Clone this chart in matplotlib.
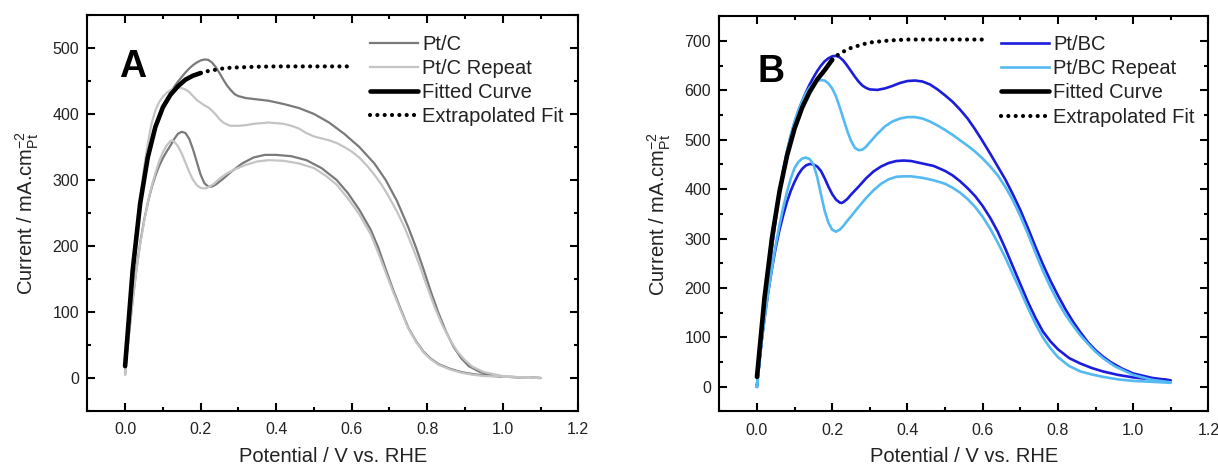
import matplotlib
matplotlib.use("Agg")
import matplotlib.pyplot as plt
import numpy as np

plt.rcParams['font.family'] = ['Liberation Sans', 'DejaVu Sans']
plt.rcParams['mathtext.fontset'] = 'custom'
plt.rcParams['mathtext.rm'] = 'Liberation Sans'
plt.rcParams['mathtext.it'] = 'Liberation Sans'

# ---------------- Panel A data ----------------
ptc_fwd_x = [0.0, 0.01, 0.02, 0.03, 0.04, 0.05, 0.06, 0.07, 0.08, 0.09, 0.10, 0.11, 0.12, 0.13, 0.14, 0.15,
             0.16, 0.17, 0.18, 0.19, 0.20, 0.21, 0.22, 0.23, 0.24, 0.25, 0.26, 0.27, 0.28, 0.29, 0.30, 0.32,
             0.35, 0.38, 0.42, 0.46, 0.50, 0.54, 0.58, 0.62, 0.66, 0.69, 0.72, 0.75, 0.77, 0.79, 0.81, 0.83,
             0.85, 0.87, 0.89, 0.91, 0.94, 0.97, 1.00, 1.05, 1.10]
ptc_fwd_y = [6, 80, 150, 210, 258, 298, 330, 357, 378, 396, 410, 422, 432, 441, 449, 456,
             463, 469, 474, 478, 481, 482.5, 482, 478, 471, 462, 452, 443, 436, 430, 427, 424,
             422, 420, 415, 409, 400, 387, 370, 350, 325, 300, 268, 228, 198, 165, 130, 98,
             70, 47, 30, 18, 9, 4, 2, 1, 0]
ptc_rev_x = [1.10, 1.05, 1.00, 0.95, 0.92, 0.89, 0.86, 0.83, 0.81, 0.79, 0.77, 0.75, 0.73, 0.71, 0.69, 0.67,
             0.65, 0.62, 0.59, 0.56, 0.52, 0.48, 0.44, 0.40, 0.37, 0.34, 0.31, 0.28, 0.26, 0.24, 0.23, 0.22,
             0.21, 0.20, 0.19, 0.18, 0.17, 0.16, 0.15, 0.14, 0.13, 0.12, 0.11, 0.10, 0.09, 0.08, 0.07, 0.06,
             0.05, 0.04, 0.03, 0.02, 0.01, 0.0]
ptc_rev_y = [0, 1, 2, 4, 6, 9, 14, 21, 29, 40, 56, 76, 104, 133, 165, 198,
             225, 255, 280, 300, 318, 330, 336, 338, 338, 334, 325, 312, 302, 293, 290, 290,
             295, 308, 327, 346, 362, 371, 373, 370, 362, 352, 343, 333, 321, 306, 288, 265,
             238, 205, 165, 118, 65, 12]

ptcr_fwd_x = [0.0, 0.01, 0.02, 0.03, 0.04, 0.05, 0.06, 0.07, 0.08, 0.09, 0.10, 0.11, 0.12, 0.13, 0.14, 0.15,
              0.16, 0.17, 0.18, 0.19, 0.20, 0.21, 0.22, 0.23, 0.24, 0.25, 0.26, 0.27, 0.28, 0.30, 0.32, 0.34,
              0.36, 0.38, 0.40, 0.42, 0.44, 0.46, 0.48, 0.50, 0.52, 0.54, 0.56, 0.58, 0.60, 0.62, 0.64, 0.66,
              0.68, 0.70, 0.72, 0.74, 0.76, 0.78, 0.80, 0.82, 0.84, 0.86, 0.88, 0.90, 0.92, 0.95, 1.00, 1.05,
              1.10]
ptcr_fwd_y = [5, 85, 158, 220, 272, 318, 355, 385, 405, 418, 426, 432, 436, 438.5, 439.5, 439,
              437, 433, 427, 421, 417, 413, 410, 405, 399, 392, 387, 384, 382, 382, 383, 385,
              386, 387, 386, 385, 382, 378, 371, 366, 363, 360, 356, 350, 343, 334, 322, 308,
              292, 273, 252, 228, 200, 170, 138, 107, 80, 58, 40, 27, 17, 9, 3, 1,
              0]
ptcr_rev_x = [1.10, 1.00, 0.95, 0.92, 0.89, 0.86, 0.83, 0.81, 0.79, 0.77, 0.75, 0.73, 0.71, 0.69, 0.67, 0.65,
              0.62, 0.59, 0.56, 0.53, 0.50, 0.46, 0.42, 0.38, 0.35, 0.32, 0.29, 0.27, 0.25, 0.235, 0.22, 0.21,
              0.20, 0.19, 0.18, 0.17, 0.16, 0.15, 0.14, 0.13, 0.125, 0.12, 0.11, 0.10, 0.09, 0.08, 0.07, 0.06,
              0.05, 0.04, 0.03, 0.02, 0.01, 0.0]
ptcr_rev_y = [0, 2, 3, 5, 8, 13, 20, 28, 39, 55, 75, 102, 130, 160, 190, 218,
              248, 272, 293, 307, 318, 325, 329, 330, 328, 323, 316, 310, 302, 294, 289, 287,
              288, 292, 300, 312, 326, 340, 351, 358, 360, 359, 352, 342, 328, 310, 290, 265,
              236, 203, 163, 118, 65, 10]

fitA_x = [0.0, 0.02, 0.04, 0.06, 0.08, 0.10, 0.12, 0.14, 0.16, 0.18, 0.20]
fitA_y = [18, 163, 265, 334, 380, 410, 429, 442, 452, 458, 462]
extA_x = [0.20, 0.22, 0.24, 0.26, 0.28, 0.30, 0.35, 0.40, 0.45, 0.50, 0.55, 0.60]
extA_y = [462, 465, 467, 469, 470, 470.5, 471.5, 472, 472, 472, 472, 472]

# ---------------- Panel B data ----------------
pbc_fwd_x = [0.0, 0.01, 0.02, 0.03, 0.04, 0.05, 0.06, 0.07, 0.08, 0.09, 0.10, 0.11, 0.12, 0.13, 0.14, 0.15,
             0.16, 0.17, 0.18, 0.19, 0.20, 0.21, 0.22, 0.23, 0.24, 0.25, 0.26, 0.27, 0.28, 0.29, 0.30, 0.32,
             0.34, 0.36, 0.38, 0.40, 0.42, 0.44, 0.46, 0.48, 0.50, 0.52, 0.54, 0.56, 0.58, 0.60, 0.62, 0.64,
             0.66, 0.68, 0.70, 0.72, 0.74, 0.76, 0.78, 0.80, 0.82, 0.84, 0.86, 0.88, 0.90, 0.92, 0.94, 0.97,
             1.00, 1.05, 1.10]
pbc_fwd_y = [0, 75, 150, 220, 282, 340, 392, 438, 476, 508, 535, 558, 578, 596, 612, 626,
             639, 650, 659, 665, 669, 670, 667, 660, 650, 639, 628, 618, 610, 605, 602, 601,
             604, 609, 615, 619, 620, 618, 612, 602, 590, 577, 561, 543, 521, 497, 472, 446,
             420, 390, 358, 322, 284, 248, 215, 185, 157, 132, 110, 90, 74, 61, 50, 37,
             27, 18, 13]
pbc_rev_x = [1.10, 1.05, 1.00, 0.96, 0.92, 0.89, 0.86, 0.83, 0.80, 0.78, 0.76, 0.74, 0.72, 0.70, 0.68, 0.66,
             0.64, 0.62, 0.60, 0.58, 0.56, 0.54, 0.52, 0.50, 0.47, 0.44, 0.41, 0.39, 0.37, 0.35, 0.33, 0.31,
             0.29, 0.27, 0.25, 0.24, 0.23, 0.225, 0.22, 0.21, 0.20, 0.19, 0.18, 0.17, 0.16, 0.15, 0.14, 0.13,
             0.12, 0.11, 0.10, 0.09, 0.08, 0.07, 0.06, 0.05, 0.04, 0.03, 0.02, 0.01, 0.0]
pbc_rev_y = [13, 15, 19, 24, 31, 38, 47, 58, 76, 92, 112, 140, 172, 208, 244, 280,
             314, 342, 366, 386, 402, 416, 428, 437, 447, 452, 457, 458, 457, 453, 446, 436,
             422, 405, 389, 380, 374, 372, 373, 379, 390, 405, 422, 437, 446, 450, 451, 448,
             441, 430, 415, 397, 375, 348, 318, 282, 240, 192, 138, 78, 5]

pbcr_fwd_x = [0.0, 0.01, 0.02, 0.03, 0.04, 0.05, 0.06, 0.07, 0.08, 0.09, 0.10, 0.11, 0.12, 0.13, 0.14, 0.15,
              0.16, 0.17, 0.18, 0.19, 0.20, 0.21, 0.22, 0.23, 0.24, 0.25, 0.26, 0.27, 0.28, 0.29, 0.30, 0.32,
              0.34, 0.36, 0.38, 0.40, 0.42, 0.44, 0.46, 0.48, 0.50, 0.52, 0.54, 0.56, 0.58, 0.60, 0.62, 0.64,
              0.66, 0.68, 0.70, 0.72, 0.74, 0.76, 0.78, 0.80, 0.82, 0.84, 0.86, 0.88, 0.90, 0.92, 0.95, 1.00,
              1.05, 1.10]
pbcr_fwd_y = [0, 78, 155, 225, 288, 345, 396, 440, 478, 510, 537, 560, 578, 594, 606, 614,
              619, 621, 620, 614, 604, 588, 566, 542, 518, 498, 484, 479, 480, 486, 495, 512,
              527, 537, 543, 546, 546, 543, 537, 529, 520, 510, 499, 488, 476, 462, 446, 428,
              405, 378, 346, 310, 272, 235, 202, 172, 146, 124, 104, 87, 71, 58, 42, 24,
              14, 9]
pbcr_rev_x = [1.10, 1.05, 1.00, 0.96, 0.92, 0.89, 0.86, 0.83, 0.80, 0.78, 0.76, 0.74, 0.72, 0.70, 0.68, 0.66,
              0.64, 0.62, 0.60, 0.58, 0.56, 0.54, 0.52, 0.50, 0.47, 0.44, 0.41, 0.39, 0.37, 0.35, 0.33, 0.31,
              0.29, 0.27, 0.25, 0.24, 0.23, 0.22, 0.21, 0.20, 0.19, 0.18, 0.17, 0.16, 0.15, 0.14, 0.13, 0.12,
              0.11, 0.10, 0.09, 0.08, 0.07, 0.06, 0.05, 0.04, 0.03, 0.02, 0.01, 0.0]
pbcr_rev_y = [8, 10, 12, 15, 20, 25, 31, 42, 60, 78, 100, 128, 160, 195, 228, 262,
              292, 320, 344, 364, 380, 393, 403, 411, 418, 423, 426, 426, 425, 420, 411, 398,
              382, 364, 345, 336, 326, 318, 314, 318, 332, 356, 390, 425, 450, 461, 464, 462,
              455, 443, 422, 395, 364, 328, 288, 242, 192, 137, 77, 3]

fitB_x = [0.0, 0.02, 0.04, 0.06, 0.08, 0.10, 0.12, 0.14, 0.16, 0.18, 0.20]
fitB_y = [20, 180, 302, 396, 468, 523, 565, 597, 622, 641, 662]
extB_x = [0.20, 0.22, 0.25, 0.28, 0.30, 0.35, 0.40, 0.45, 0.50, 0.55, 0.60]
extB_y = [662, 675, 686, 693, 697, 701, 703, 703, 703, 703, 703]

x_ticks = [0.0, 0.2, 0.4, 0.6, 0.8, 1.0, 1.2]
yticks_A = [0, 100, 200, 300, 400, 500]
yticks_B = [0, 100, 200, 300, 400, 500, 600, 700]

labels_A = ['Pt/C', 'Pt/C Repeat', 'Fitted Curve', 'Extrapolated Fit']
labels_B = ['Pt/BC', 'Pt/BC Repeat', 'Fitted Curve', 'Extrapolated Fit']

fig = plt.figure(figsize=(12.18, 4.66), dpi=100)
axA = fig.add_axes([0.0717, 0.118, 0.4031, 0.850])
axB = fig.add_axes([0.5906, 0.117, 0.4015, 0.848])

TXT = '#222222'


def style(ax, yticks, ylim):
    ax.set_xlim(-0.1, 1.2)
    ax.set_ylim(*ylim)
    ax.set_xticks(x_ticks)
    ax.set_xticklabels(['%.1f' % v for v in x_ticks])
    ax.set_yticks(yticks)
    ax.set_xticks(np.arange(-0.1, 1.21, 0.1), minor=True)
    ax.set_yticks(np.arange(-50, ylim[1] + 1, 50), minor=True)
    ax.tick_params(which='both', direction='in', top=True, right=True, width=1.5, labelsize=11.5,
                   colors='black', labelcolor=TXT)
    ax.tick_params(which='major', length=5.5)
    ax.tick_params(which='minor', length=3)
    ax.tick_params(axis='x', pad=8)
    ax.tick_params(axis='y', pad=6)
    for s in ax.spines.values():
        s.set_linewidth(1.5)
    ax.set_xlabel('Potential / V vs. RHE', fontsize=14.5, labelpad=7, color=TXT)
    ax.set_ylabel('Current / mA.cm$^{-2}_{Pt}$', fontsize=14.5, labelpad=8, color=TXT)


def dotted(ax, x, y, label):
    ln, = ax.plot(x, y, color='black', lw=3.0, label=label,
                  linestyle=(0, (0.01, 1.75)), dash_capstyle='round')
    return ln


def legend(ax, handles, y):
    ax.legend(handles=handles, loc='upper left', bbox_to_anchor=(0.575, y), frameon=False,
              fontsize=14.5, handlelength=2.4, handletextpad=0.2, labelspacing=0.26, borderpad=0,
              borderaxespad=0, labelcolor=TXT)


# Panel A
hA1, = axA.plot(ptc_fwd_x + ptc_rev_x, ptc_fwd_y + ptc_rev_y, color='#7a7a7a', lw=1.6, label=labels_A[0])
hA2, = axA.plot(ptcr_fwd_x + ptcr_rev_x, ptcr_fwd_y + ptcr_rev_y, color='#c4c4c4', lw=1.6, label=labels_A[1])
hA3, = axA.plot(fitA_x, fitA_y, color='black', lw=3.3, label=labels_A[2], solid_capstyle='round')
hA4 = dotted(axA, extA_x, extA_y, labels_A[3])
style(axA, yticks_A, (-40, 550))
axA.text(0.064, 0.842, 'A', transform=axA.transAxes, fontsize=27, fontweight='bold', ha='left', va='baseline')
legend(axA, [hA1, hA2, hA3, hA4], 0.950)

# Panel B
hB1, = axB.plot(pbc_fwd_x + pbc_rev_x, pbc_fwd_y + pbc_rev_y, color='#1c1cdc', lw=1.9, label=labels_B[0])
hB2, = axB.plot(pbcr_fwd_x + pbcr_rev_x, pbcr_fwd_y + pbcr_rev_y, color='#55b9f2', lw=1.9, label=labels_B[1])
hB3, = axB.plot(fitB_x, fitB_y, color='black', lw=3.3, label=labels_B[2], solid_capstyle='round')
hB4 = dotted(axB, extB_x, extB_y, labels_B[3])
style(axB, yticks_B, (-40, 750))
axB.text(0.078, 0.835, 'B', transform=axB.transAxes, fontsize=27, fontweight='bold', ha='left', va='baseline')
legend(axB, [hB1, hB2, hB3, hB4], 0.953)

fig.savefig('out.png', dpi=100)
